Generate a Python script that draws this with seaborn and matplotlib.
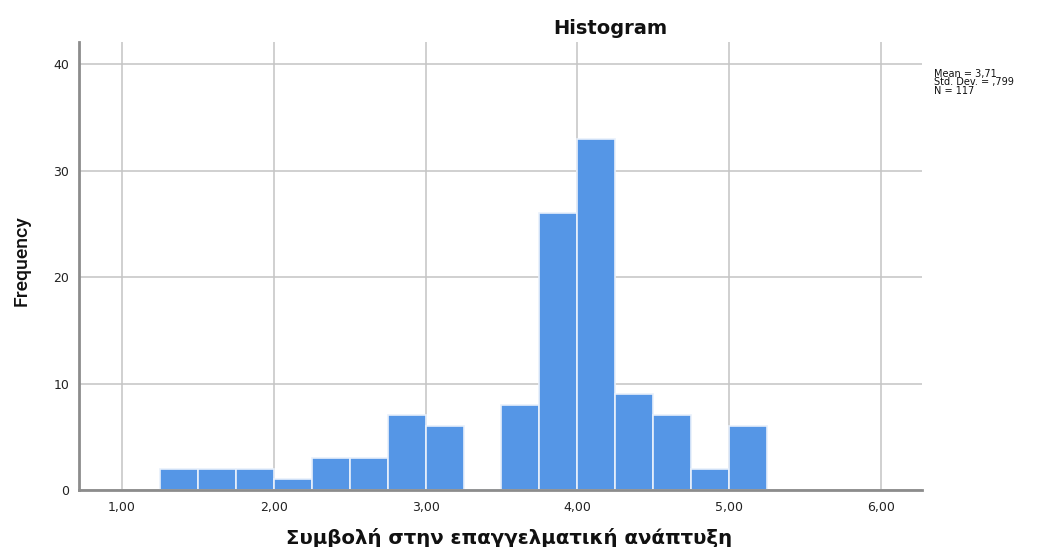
import matplotlib
matplotlib.use("Agg")
import matplotlib.pyplot as plt
import seaborn as sns
import numpy as np

# Histogram bins (width 0.25) and frequencies
bin_edges = [1.25, 1.50, 1.75, 2.00, 2.25, 2.50, 2.75, 3.00, 3.25, 3.50,
             3.75, 4.00, 4.25, 4.50, 4.75, 5.00, 5.25]
counts = [2, 2, 2, 1, 3, 3, 7, 6, 0, 8, 26, 33, 9, 7, 2, 6]
x_ticks = [1.0, 2.0, 3.0, 4.0, 5.0, 6.0]
x_tick_labels = ["1,00", "2,00", "3,00", "4,00", "5,00", "6,00"]
y_ticks = [0, 10, 20, 30, 40]
stats_lines = ["Mean = 3,71", "Std. Dev. = ,799", "N = 117"]

mids = [(a + b) / 2 for a, b in zip(bin_edges[:-1], bin_edges[1:])]

sns.set_theme(style="white")
plt.rcParams["font.family"] = ["DejaVu Sans"]

W, H = 1048, 547
fig = plt.figure(figsize=(W / 100, H / 100), dpi=100)
ax = fig.add_axes([79 / W, 1 - 490 / H, (922 - 79) / W, (490 - 42) / H])

ax.set_xlim(0.717, 6.27)
ax.set_ylim(0, 42.07)

ax.set_xticks(x_ticks)
ax.set_xticklabels(x_tick_labels)
ax.set_yticks(y_ticks)
ax.grid(True, color="#c4c4c4", linewidth=1.1)
ax.set_axisbelow(True)

sns.histplot(x=mids, weights=counts, bins=bin_edges, ax=ax,
             color="#5596e6", alpha=1.0, edgecolor="#e8f0fb", linewidth=1.2)

for s in ["top", "right"]:
    ax.spines[s].set_visible(False)
ax.spines["left"].set_color("#8c8c8c")
ax.spines["left"].set_linewidth(2.0)
ax.spines["bottom"].set_color("#8c8c8c")
ax.spines["bottom"].set_linewidth(2.0)

ax.tick_params(axis="both", length=0, labelsize=9, colors="#222222")
ax.tick_params(axis="y", pad=7)
ax.tick_params(axis="x", pad=8)
ax.set_xlabel("")
ax.set_ylabel("")

fig.text(610 / W, 1 - 28 / H, "Histogram", ha="center", va="center",
         fontsize=14, fontweight="bold", color="#111111")
fig.text(509 / W, 1 - 538 / H, "Συμβολή στην επαγγελματική ανάπτυξη",
         ha="center", va="center", fontsize=14.2, fontweight="bold",
         color="#111111")
fig.text(22 / W, 1 - 261 / H, "Frequency", ha="center", va="center",
         rotation=90, fontsize=14, fontweight="medium",
         family=["Roboto", "DejaVu Sans"], color="#111111")

# Summary statistics block, one baseline per line
for line, y_base in zip(stats_lines, [76.5, 85.0, 93.5]):
    fig.text(934 / W, 1 - y_base / H, line, ha="left", va="baseline",
             fontsize=7.0, color="#111111")

fig.savefig("out.png", dpi=100)
